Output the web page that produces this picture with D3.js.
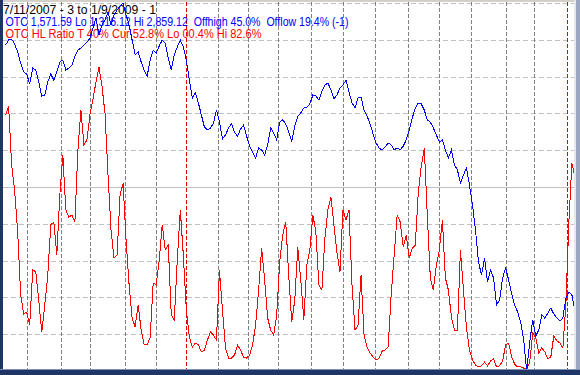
<!DOCTYPE html>
<html>
<head>
<meta charset="utf-8">
<script src="https://cdn.jsdelivr.net/npm/d3@7"></script>
<style>
  body { margin: 0; background: #fff; }
  svg { display: block; }
  .label { font-family: "Liberation Sans", Arial, sans-serif; font-size: 12px; white-space: pre; }
</style>
</head>
<body>
<svg width="580" height="375"></svg>
<script>
// OTC close, every other session from 7/12/2007 to 1/9/2009
var otc = [2683,2704,2708,2687,2654,2607,2570,2561,2519,2586,2578,2528,2469,2473,2528,2561,2536,2570,2612,2620,
  2578,2586,2599,2637,2662,2670,2683,2695,2712,2754,2796,2725,2767,2788,2821,2767,2809,2830,2846,2859.12,
  2809,2767,2704,2641,2654,2612,2578,2553,2620,2662,2649,2679,2704,2691,2628,2578,2641,2675,2704,2675,
  2620,2536,2461,2482,2440,2389,2339,2327,2335,2356,2410,2360,2289,2306,2335,2352,2318,2301,2331,2347,
  2301,2259,2234,2209,2251,2243,2222,2264,2335,2314,2285,2360,2369,2352,2318,2280,2343,2385,2398,2419,
  2423,2436,2473,2469,2452,2490,2515,2524,2494,2456,2473,2503,2515,2536,2486,2440,2419,2461,2465,2410,
  2385,2352,2310,2272,2251,2243,2255,2272,2264,2243,2251,2243,2259,2285,2327,2377,2419,2440,2436,2410,
  2369,2360,2335,2306,2276,2285,2243,2209,2243,2180,2159,2104,2138,2167,2096,2012,1907,1773,1719,1790,
  1689,1739,1706,1593,1614,1706,1748,1698,1639,1593,1563,1521,1446,1316.12,1438,1530,1463,1488,1551,1538,
  1559,1580,1555,1538,1526,1538,1622,1647,1635,1571.59];

// OTC HL ratio (%), same sessions
var hlRatio = [69.6,72,56,49,38,20.7,15.5,16,12.5,27.4,27,19.3,10.6,18,26,39.7,40.5,31.5,47.8,58.7,
  43.8,41.8,42.4,40.5,60,71,61.4,62.8,69.6,73.9,78.5,82.6,77.4,70,53.3,38.3,30.7,31.5,47.8,51,
  35.6,23.4,14.4,12,18,11.1,7.1,7.1,9.2,23.9,23.4,30.2,39.7,32.9,34.2,15.2,13.9,30.2,43.8,31.5,
  16.6,9.2,6.5,7.6,7.1,5.2,5.7,8.4,10.6,9.8,8.4,27.4,16.6,6.3,3.5,3.5,4.3,7.1,5.7,3.8,
  3.5,4.3,7.1,12.5,22,33.4,24.7,14.4,11.1,9.8,15.2,29.6,37,40.5,26,13.3,19.3,33.7,24.7,13.9,
  28.8,32.9,42.4,37.8,23.4,22,36.1,43.8,47.3,39.7,32.3,26.9,43.8,41,43.8,23.4,11.1,12.5,26,9.8,
  6.5,4.9,3.8,3,3.5,5.4,5.7,6.5,20.7,31.5,42.4,40.5,33.7,37,30.7,33.4,34.2,48.4,55.7,60.6,
  42.4,25.3,22,28.8,32.9,41,25.3,22,14.7,11.1,11.1,32.9,22,11.7,5.7,3,1.6,1.1,1.4,2.4,
  1.4,2.7,3.3,1.1,1.4,2.7,7.1,7.6,3.8,1.9,1.1,1.1,0.8,0.4,2.4,10.3,9,4.9,6.3,5.2,
  3.3,3.8,9.5,8.2,7.6,6.3,17.9,40.5,56.5,52.8];

// session index of first trading day of each month (0 = 7/11/2007)
var monthStarts = [15, 38, 57, 80, 101, 121, 142, 162, 182, 204, 225, 246, 268, 289, 310, 333, 352, 374];
var yearStarts = [121, 374];
var lastSession = 379;

var gridPct = [10, 20, 30, 40, 50, 60, 70, 80, 90, 100];

var header = [
  {text: "7/11/2007 - 3 to 1/9/2009 - 1", color: "#000000", x: 3, w: 153},
  {text: "OTC 1,571.59 Lo 1,316.12 Hi 2,859.12  Offhigh 45.0%  Offlow 19.4% (-1)", color: "#0000ff", x: 5.5, w: 343},
  {text: "OTC HL Ratio T 40% Cur 52.8% Lo 00.4% Hi 82.6%", color: "#ff0000", x: 5.5, w: 256}
];

var svg = d3.select("svg");

var x = d3.scaleLinear().domain([0, lastSession]).range([4.1, 574.9]);
var yOtc = d3.scaleLinear().domain([1316.12, 2859.12]).range([371, 3]);
var yPct = d3.scaleLinear().domain([0, 100]).range([371, 3]);

// plot background
svg.append("rect")
  .attr("x", 0).attr("y", 0).attr("width", 580).attr("height", 375)
  .style("fill", "#ffffff");

// horizontal grid
svg.selectAll(".hgrid")
  .data(gridPct)
  .enter().append("line")
    .attr("class", "hgrid")
    .attr("x1", 3).attr("x2", 575)
    .attr("y1", d => Math.round(yPct(d)) + 0.5)
    .attr("y2", d => Math.round(yPct(d)) + 0.5)
    .style("stroke", "#c0c0c0")
    .style("stroke-width", 1)
    .style("stroke-dasharray", d => d == 50 ? null : "5,3")
    .style("shape-rendering", "crispEdges");

// month separators
svg.selectAll(".vgrid")
  .data(monthStarts)
  .enter().append("line")
    .attr("class", "vgrid")
    .attr("x1", d => Math.round(x(d)) + 0.5)
    .attr("x2", d => Math.round(x(d)) + 0.5)
    .attr("y1", 2).attr("y2", 371)
    .style("stroke", d => yearStarts.indexOf(d) >= 0 ? "#e00000" : "#808080")
    .style("stroke-width", 1)
    .style("stroke-dasharray", "4,2")
    .style("shape-rendering", "crispEdges");

// header text
svg.selectAll(".label")
  .data(header)
  .enter().append("text")
    .attr("class", "label")
    .attr("x", d => d.x)
    .attr("y", (d, i) => 13.5 + i * 12.2)
    .attr("textLength", d => d.w)
    .attr("lengthAdjust", "spacingAndGlyphs")
    .style("fill", d => d.color)
    .text(d => d.text);

var session = (d, i) => x(2 * i + 1);

var ratioLine = d3.line().x(session).y(d => yPct(d));
var otcLine = d3.line().x(session).y(d => yOtc(d));

svg.append("path")
  .datum(hlRatio)
  .attr("d", ratioLine)
  .style("fill", "none")
  .style("stroke", "#ff0000")
  .style("stroke-width", 1)
  .style("shape-rendering", "crispEdges");

svg.append("path")
  .datum(otc)
  .attr("d", otcLine)
  .style("fill", "none")
  .style("stroke", "#0000ff")
  .style("stroke-width", 1)
  .style("shape-rendering", "crispEdges");

// window frame
var frame = svg.append("g");
frame.append("rect").attr("x", 0).attr("y", 0).attr("width", 580).attr("height", 2).style("fill", "#d4d0c8");
frame.append("rect").attr("x", 0).attr("y", 0).attr("width", 3).attr("height", 375).style("fill", "#1e3565");
frame.append("rect").attr("x", 574).attr("y", 0).attr("width", 2).attr("height", 375).style("fill", "#e6e8ee");
frame.append("rect").attr("x", 576).attr("y", 0).attr("width", 4).attr("height", 375).style("fill", "#9aa6c2");
frame.append("rect").attr("x", 0).attr("y", 369).attr("width", 580).attr("height", 6).style("fill", "#1e3565");
frame.append("rect").attr("x", 0).attr("y", 369).attr("width", 580).attr("height", 1).style("fill", "#8090b8");
</script>
</body>
</html>
